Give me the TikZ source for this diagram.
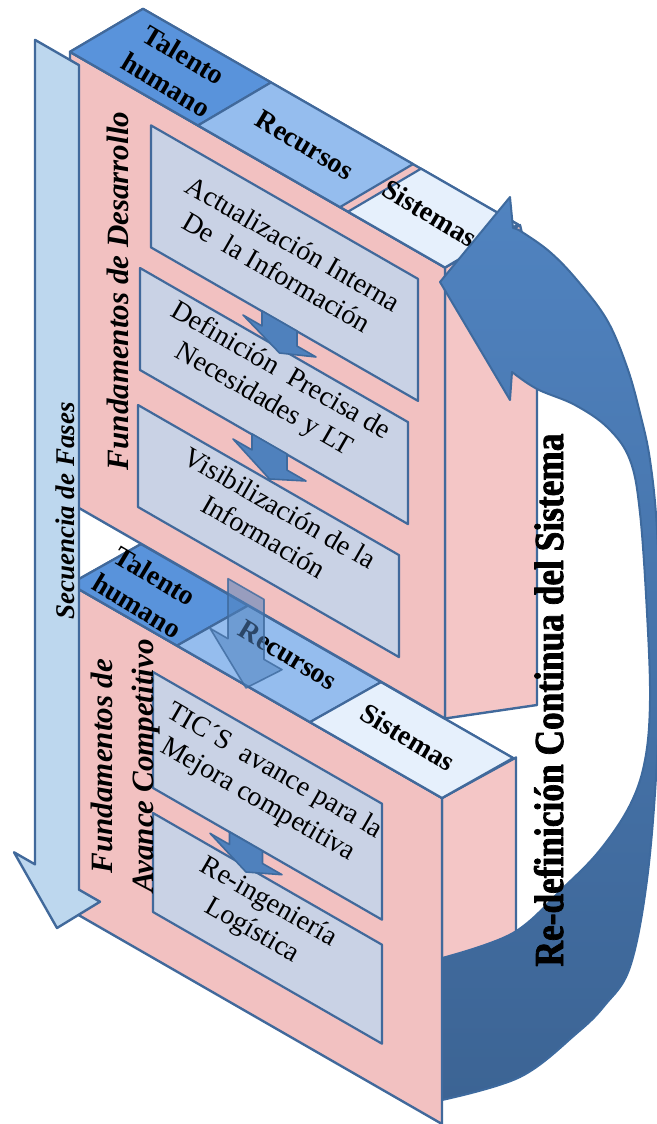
\documentclass[tikz,border=0pt]{standalone}
\usepackage{fontspec}
\setmainfont{Liberation Serif}
\newfontfamily\heavyfont{Liberation Serif}[UprightFeatures={FakeBold=2},BoldFeatures={FakeBold=2}]
\definecolor{bord}{HTML}{41699B}
\definecolor{pinkF}{HTML}{F2C1C1}
\definecolor{pinkS}{HTML}{F4C6C6}
\definecolor{boxF}{HTML}{C9D2E5}
\definecolor{talC}{HTML}{5993DB}
\definecolor{recC}{HTML}{95BDEE}
\definecolor{sisC}{HTML}{E6F0FC}
\definecolor{secC}{HTML}{BDD7EE}
\definecolor{arrC}{HTML}{4F81BD}
\definecolor{arrB}{HTML}{3E6A9E}
\definecolor{arrTop}{HTML}{5083C0}
\definecolor{arrBot}{HTML}{3C6494}
\newcommand\shearArrow[7]{%
  \begin{scope}[shift={(#1,0)},yslant=-0.575]
    \path[#7] (-#5,#2) -- (#5,#2) -- (#5,#3) -- (#6,#3) -- (0,#4) -- (-#6,#3) -- (-#5,#3) -- cycle;
  \end{scope}}
\begin{document}
\begin{tikzpicture}[x=1pt,y=-1pt,line join=round,
  face/.style={fill=pinkF,draw=bord,line width=2.4pt},
  sideface/.style={fill=pinkS,draw=bord,line width=2.4pt},
  infobox/.style={fill=boxF,draw=bord,line width=2.2pt},
  talento/.style={fill=talC,draw=bord,line width=2.2pt},
  recursos/.style={fill=recC,draw=bord,line width=2.2pt},
  sistemas/.style={fill=sisC,draw=bord,line width=2.2pt},
  smallarrow/.style={fill=arrC,draw=arrB,line width=1.6pt},
  boxtext/.style={font=\fontsize{28}{33}\selectfont,align=center,rotate=-30,text=black},
  toplabel/.style={font=\fontsize{28}{35}\selectfont\bfseries,align=center,rotate=-31},
  vlabel/.style={font=\fontsize{31}{37}\selectfont\bfseries\itshape,rotate=90,anchor=base},
]
\useasboundingbox (0,0) rectangle (656,1124);

% ---------- lower block ----------
\path[sideface] (442,798) -- (516,757.5) -- (516,1060) -- (442,1098) -- cycle;
\path[face] (70,584.1) -- (442,798) -- (442,1124) -- (70,910.1) -- cycle;
\path[face] (70,584.1) -- (442,798) -- (513,758) -- (141,544.1) -- cycle;
\path[talento] (70,584.1) -- (177,645.6) -- (248,605.6) -- (141,544.1) -- cycle;
\path[recursos] (177,645.6) -- (310,722.1) -- (381,682.1) -- (248,605.6) -- cycle;
\path[sistemas] (310,722.1) -- (442,798) -- (513,758) -- (381,682.1) -- cycle;
\path[infobox] (153,672) -- (382,803.7) -- (382,919.7) -- (153,788) -- cycle;
\path[infobox] (153,813) -- (382,944.7) -- (382,1043.7) -- (153,912) -- cycle;
\shearArrow{246}{841.5}{854}{872}{16.5}{36}{smallarrow}
\node[toplabel] (tal2) at (146,591) {Talento\\humano};
\node[toplabel] (rec2) at (288,655) {Recursos};
\node[toplabel] (sis2) at (408,737) {Sistemas};
\node[boxtext] (b4) at (266,786) {TIC´S\ \ avance para la\\Mejora competitiva};
\node[boxtext] (b5) at (260,917) {Re-ingeniería\\Logística};

% ---------- upper block ----------
\path[sideface] (445,267.5) -- (520,225) -- (537,300) -- (537,705) -- (445,718.5) -- cycle;
\path[face] (70,51.85) -- (445,267.5) -- (445,718.5) -- (70,502.85) -- cycle;
\path[face] (70,51.85) -- (445,267.5) -- (518,224.5) -- (143,8.85) -- cycle;
\path[talento] (70,51.85) -- (198,125.45) -- (271,82.45) -- (143,8.85) -- cycle;
\path[recursos] (198,125.45) -- (340,207.1) -- (413,164.1) -- (271,82.45) -- cycle;
\path[sistemas] (348,211.7) -- (445,267.5) -- (518,224.5) -- (421,168.7) -- cycle;
\path[infobox] (151,125.4) -- (418,278.9) -- (418,400.9) -- (151,247.4) -- cycle;
\path[infobox] (140,268) -- (408,422.1) -- (408,524.1) -- (140,370) -- cycle;
\path[infobox] (138,405) -- (399,555.1) -- (399,657.1) -- (138,507) -- cycle;
\shearArrow{279.5}{321}{336}{353}{17.5}{36.5}{smallarrow}
\shearArrow{269.5}{444}{460}{479}{17.5}{36.5}{smallarrow}
\node[toplabel] (tal1) at (175,70) {Talento\\humano};
\node[toplabel] (rec1) at (305,145) {Recursos};
\node[toplabel] (sis1) at (430,213) {Sistemas};
\node[boxtext] (b1) at (285,258) {Actualización Interna\\De\ \ la Información};
\node[boxtext] (b2) at (272,386) {Definición\ \ Precisa de\\Necesidades y LT};
\node[boxtext] (b3) at (272,522) {Visibilización de la\\Información};
\node[vlabel] (fd) at (128,291) {Fundamentos de Desarrollo};

% ---------- transition arrow ----------
\shearArrow{246}{589}{649}{688}{18}{36}{fill=arrC,fill opacity=0.55,draw=arrB,draw opacity=0.8,line width=1.6pt}

% ---------- sequence arrow ----------
\shearArrow{57}{52.5}{877}{928}{22}{43}{fill=secC,draw=bord,line width=2.4pt}
\node[vlabel,font=\fontsize{27}{32}\selectfont\bfseries\itshape] (sf) at (74,511) {Secuencia de Fases};
\node[vlabel] (fa1) at (112,766) {Fundamentos de};
\node[vlabel] (fa2) at (153,766) {Avance Competitivo};

% ---------- curved arrow ----------
\path[top color=arrTop,bottom color=arrBot,draw=arrB,line width=2pt]
  (510,197) -- (440,282) -- (510,400) -- (512,372)
  -- plot[smooth,tension=0.6] coordinates {(512,372) (537,389) (575,405) (608,428) (630,460) (640,513) (647,613) (650,700) (645,760) (630,805) (600,850) (563,888) (513,933) (442,958)}
  -- (442,1100)
  -- plot[smooth,tension=0.6] coordinates {(442,1100) (520,1077) (577,1033) (605,1005) (630,967) (647,880) (657,760) (660,640) (657,530) (650,460) (640,413) (627,367) (607,320) (577,280) (550,252) (522,232) (513,228)}
  -- cycle;
\node[rotate=90,anchor=base] (rd) at (563,700) {\resizebox{533pt}{29pt}{\heavyfont\bfseries\fontsize{35}{40}\selectfont Re-definición Continua del Sistema}};
\end{tikzpicture}
\end{document}
